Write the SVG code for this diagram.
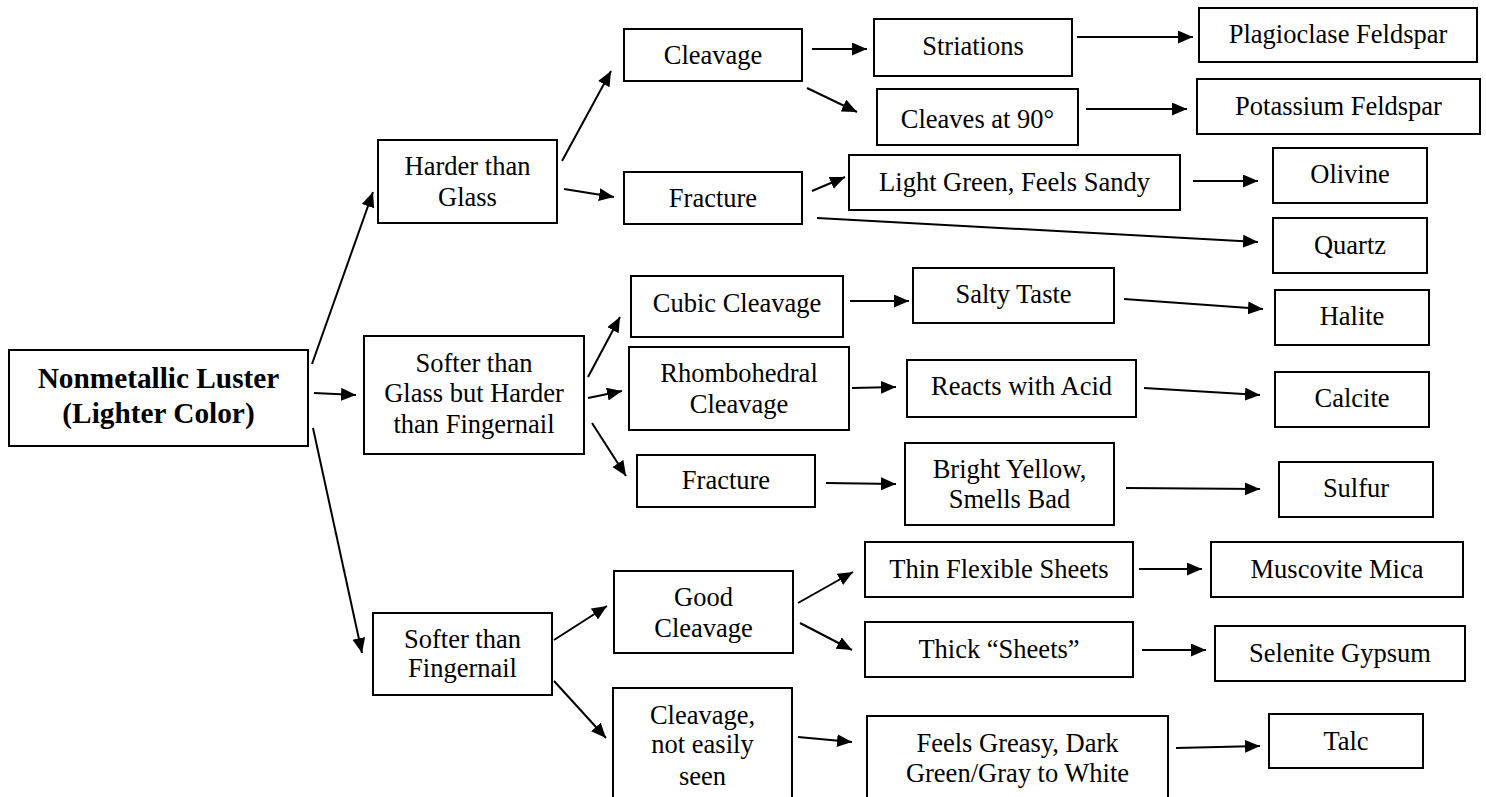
<svg xmlns="http://www.w3.org/2000/svg" width="1486" height="797" viewBox="0 0 1486 797">
<style>
rect.b{fill:#fff;stroke:#000;stroke-width:2}
text{font-family:"Liberation Serif","Times New Roman",serif;font-size:26.5px;fill:#000;text-anchor:middle}
text.bold{font-weight:bold;font-size:29.3px}
#connectors line{stroke:#000;stroke-width:2;marker-end:url(#ah)}
</style>
<defs>
<marker id="ah" markerUnits="userSpaceOnUse" markerWidth="16" markerHeight="14" refX="15" refY="6.5" orient="auto">
<path d="M0,0 L15,6.5 L0,13 z" fill="#000"/>
</marker>
</defs>
<rect width="1486" height="797" fill="#fff"/>
<g id="connectors">
<line x1="312" y1="364" x2="373" y2="192"/>
<line x1="314" y1="393" x2="356" y2="395"/>
<line x1="313" y1="428" x2="362" y2="653"/>
<line x1="562" y1="161" x2="611" y2="71"/>
<line x1="564" y1="189" x2="614" y2="197"/>
<line x1="812" y1="49" x2="867" y2="49"/>
<line x1="807" y1="88" x2="857" y2="112"/>
<line x1="812" y1="191" x2="845" y2="177"/>
<line x1="817" y1="218" x2="1258" y2="242"/>
<line x1="1077" y1="37" x2="1193" y2="37"/>
<line x1="1086" y1="109" x2="1187" y2="109"/>
<line x1="1193" y1="181" x2="1258" y2="181"/>
<line x1="588" y1="377" x2="620" y2="317"/>
<line x1="588" y1="398" x2="622" y2="391"/>
<line x1="592" y1="423" x2="626" y2="476"/>
<line x1="850" y1="301" x2="909" y2="301"/>
<line x1="852" y1="388" x2="896" y2="387"/>
<line x1="826" y1="483" x2="896" y2="484"/>
<line x1="1124" y1="299" x2="1263" y2="309"/>
<line x1="1144" y1="388" x2="1260" y2="395"/>
<line x1="1126" y1="488" x2="1260" y2="489"/>
<line x1="554" y1="640" x2="607" y2="606"/>
<line x1="554" y1="681" x2="606" y2="738"/>
<line x1="798" y1="603" x2="853" y2="572"/>
<line x1="800" y1="623" x2="852" y2="650"/>
<line x1="798" y1="737" x2="852" y2="742"/>
<line x1="1139" y1="569" x2="1202" y2="569"/>
<line x1="1142" y1="650" x2="1206" y2="650"/>
<line x1="1176" y1="748" x2="1260" y2="746"/>
</g>
<g id="n-root"><rect class="b" x="9" y="350" width="299" height="96"/><text class="bold" x="158.5" y="388">Nonmetallic Luster</text><text class="bold" x="158.5" y="423">(Lighter Color)</text></g>
<g id="n-harder"><rect class="b" x="378" y="140" width="179" height="83"/><text x="467.5" y="175">Harder than</text><text x="467.5" y="206">Glass</text></g>
<g id="n-softer-glass"><rect class="b" x="364" y="336" width="220" height="118"/><text x="474" y="372">Softer than</text><text x="474" y="402">Glass but Harder</text><text x="474" y="433">than Fingernail</text></g>
<g id="n-softer-nail"><rect class="b" x="373" y="613" width="179" height="82"/><text x="462.5" y="648">Softer than</text><text x="462.5" y="677">Fingernail</text></g>
<g id="n-cleavage"><rect class="b" x="624" y="29" width="178" height="52"/><text x="713" y="64">Cleavage</text></g>
<g id="n-fracture1"><rect class="b" x="624" y="172" width="178" height="52"/><text x="713" y="207">Fracture</text></g>
<g id="n-striations"><rect class="b" x="874" y="19" width="198" height="57"/><text x="973" y="55">Striations</text></g>
<g id="n-cleaves90"><rect class="b" x="877" y="89" width="201" height="56"/><text x="977.5" y="128">Cleaves at 90°</text></g>
<g id="n-lightgreen"><rect class="b" x="849" y="155" width="331" height="55"/><text x="1014.5" y="191">Light Green, Feels Sandy</text></g>
<g id="n-plagioclase"><rect class="b" x="1199" y="8" width="278" height="54"/><text x="1338" y="43">Plagioclase Feldspar</text></g>
<g id="n-potassium"><rect class="b" x="1197" y="79" width="283" height="55"/><text x="1338.5" y="115">Potassium Feldspar</text></g>
<g id="n-olivine"><rect class="b" x="1273" y="148" width="154" height="55"/><text x="1350" y="183">Olivine</text></g>
<g id="n-quartz"><rect class="b" x="1273" y="218" width="154" height="55"/><text x="1350" y="254">Quartz</text></g>
<g id="n-cubic"><rect class="b" x="631" y="276" width="212" height="61"/><text x="737" y="312">Cubic Cleavage</text></g>
<g id="n-rhombo"><rect class="b" x="629" y="347" width="220" height="83"/><text x="739" y="382">Rhombohedral</text><text x="739" y="413">Cleavage</text></g>
<g id="n-fracture2"><rect class="b" x="637" y="455" width="178" height="52"/><text x="726" y="489">Fracture</text></g>
<g id="n-salty"><rect class="b" x="913" y="268" width="201" height="55"/><text x="1013.5" y="303">Salty Taste</text></g>
<g id="n-reacts"><rect class="b" x="907" y="360" width="229" height="57"/><text x="1021.5" y="395">Reacts with Acid</text></g>
<g id="n-bright"><rect class="b" x="905" y="443" width="209" height="82"/><text x="1009.5" y="478">Bright Yellow,</text><text x="1009.5" y="508">Smells Bad</text></g>
<g id="n-halite"><rect class="b" x="1275" y="290" width="154" height="55"/><text x="1352" y="325">Halite</text></g>
<g id="n-calcite"><rect class="b" x="1275" y="372" width="154" height="55"/><text x="1352" y="407">Calcite</text></g>
<g id="n-sulfur"><rect class="b" x="1279" y="462" width="154" height="55"/><text x="1356" y="497">Sulfur</text></g>
<g id="n-good"><rect class="b" x="614" y="571" width="179" height="82"/><text x="703.5" y="606">Good</text><text x="703.5" y="637">Cleavage</text></g>
<g id="n-notseen"><rect class="b" x="613" y="688" width="179" height="120"/><text x="702.5" y="724">Cleavage,</text><text x="702.5" y="753">not easily</text><text x="702.5" y="785">seen</text></g>
<g id="n-thin"><rect class="b" x="865" y="542" width="268" height="55"/><text x="999" y="578">Thin Flexible Sheets</text></g>
<g id="n-thick"><rect class="b" x="865" y="622" width="268" height="55"/><text x="999" y="658">Thick “Sheets”</text></g>
<g id="n-greasy"><rect class="b" x="867" y="716" width="301" height="92"/><text x="1017.5" y="752">Feels Greasy, Dark</text><text x="1017.5" y="782">Green/Gray to White</text></g>
<g id="n-muscovite"><rect class="b" x="1211" y="542" width="252" height="55"/><text x="1337" y="578">Muscovite Mica</text></g>
<g id="n-selenite"><rect class="b" x="1215" y="626" width="250" height="55"/><text x="1340" y="662">Selenite Gypsum</text></g>
<g id="n-talc"><rect class="b" x="1269" y="714" width="154" height="54"/><text x="1346" y="750">Talc</text></g>
</svg>
